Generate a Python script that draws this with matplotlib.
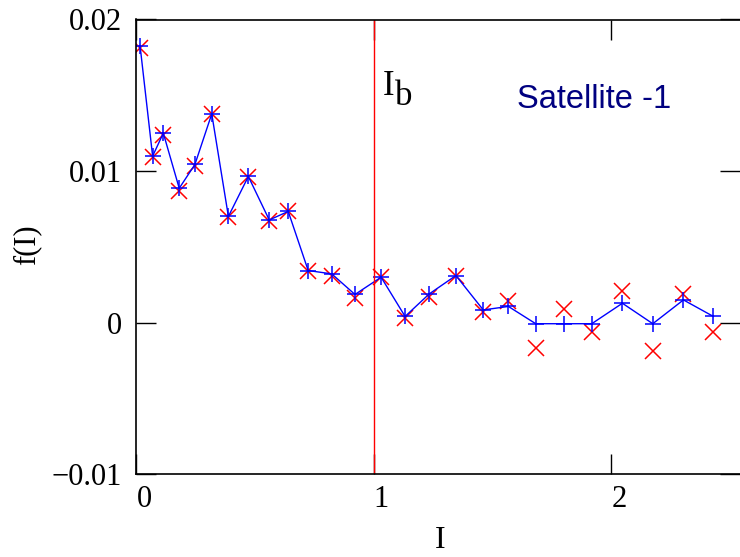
import matplotlib
matplotlib.use('Agg')
import matplotlib.pyplot as plt
import matplotlib.transforms as mtransforms

# データ
I_vals = [0.017, 0.070, 0.115, 0.182, 0.248, 0.319, 0.389, 0.473, 0.561, 0.641,
          0.725, 0.824, 0.922, 1.032, 1.133, 1.235, 1.347, 1.462, 1.568, 1.683,
          1.803, 1.919, 2.048, 2.176, 2.305, 2.431]
f_blue = [0.01828, 0.01098, 0.01250, 0.00886, 0.01043, 0.01377, 0.00700, 0.00964,
          0.00677, 0.00733, 0.00343, 0.00321, 0.00185, 0.00299, 0.00040, 0.00189,
          0.00310, 0.00083, 0.00106, -0.00008, -0.00008, -0.00008, 0.00127, -0.00008,
          0.00149, 0.00040]
f_red = [0.01810, 0.01091, 0.01240, 0.00870, 0.01036, 0.01377, 0.00695, 0.00960,
         0.00670, 0.00733, 0.00340, 0.00310, 0.00160, 0.00300, 0.00028, 0.00170,
         0.00310, 0.00068, 0.00139, -0.00170, 0.00086, -0.00064, 0.00211, -0.00185,
         0.00189, -0.00064]
I_b = 1.0

xticks = [0, 1, 2]
yticks = [-0.01, 0, 0.01, 0.02]
ytick_labels = ['\u22120.01', '0', '0.01', '0.02']

plt.rcParams['font.family'] = ['Liberation Serif', 'DejaVu Serif']

fig = plt.figure(figsize=(7.4, 5.57), dpi=100)
ax = fig.add_axes([136 / 740, 83 / 557, 604 / 740, 454.5 / 557])

ax.plot(I_vals, f_red, linestyle='none', marker='x', color='red',
        markersize=11, markeredgewidth=1.1)
ax.plot(I_vals, f_blue, color='blue', linewidth=1, marker='+',
        markersize=11, markeredgewidth=1.1)
ax.axvline(I_b, color='red', linewidth=1)

ax.set_xlim(0, 604 / 237.5)
ax.set_ylim(-0.01, 0.02)
ax.set_xticks(xticks)
ax.set_xticklabels([str(t) for t in xticks])
ax.set_yticks(yticks)
ax.set_yticklabels(ytick_labels)

ax.tick_params(direction='in', length=14.4, width=1, labelsize=22,
               top=True, right=True)
ax.tick_params(axis='x', pad=8)
ax.tick_params(axis='y', pad=10)

# 目盛りラベルを少し右へ
offset = mtransforms.ScaledTranslation(8 / 100, 0, fig.dpi_scale_trans)
for lab in ax.get_xticklabels():
    lab.set_transform(lab.get_transform() + offset)

for side in ['left', 'bottom', 'top']:
    ax.spines[side].set_linestyle((0, (2, 1)))
    ax.spines[side].set_linewidth(1.2)
ax.spines['right'].set_visible(False)

ax.text(0.4085, 0.834, 'I', transform=ax.transAxes, fontsize=25)
ax.text(0.4288, 0.812, 'b', transform=ax.transAxes, fontsize=25)
ax.text(0.630, 0.805, 'Satellite -1', transform=ax.transAxes, fontsize=23.5,
        color='#000080', family=['Liberation Sans', 'DejaVu Sans'])

fig.text(27 / 740, 1 - 245 / 557, 'f(I)', rotation=90, ha='center', va='center', fontsize=22)
fig.text(440 / 740, 1 - 540.5 / 557, 'I', ha='center', va='center', fontsize=23)

fig.savefig('out.png', dpi=100)
